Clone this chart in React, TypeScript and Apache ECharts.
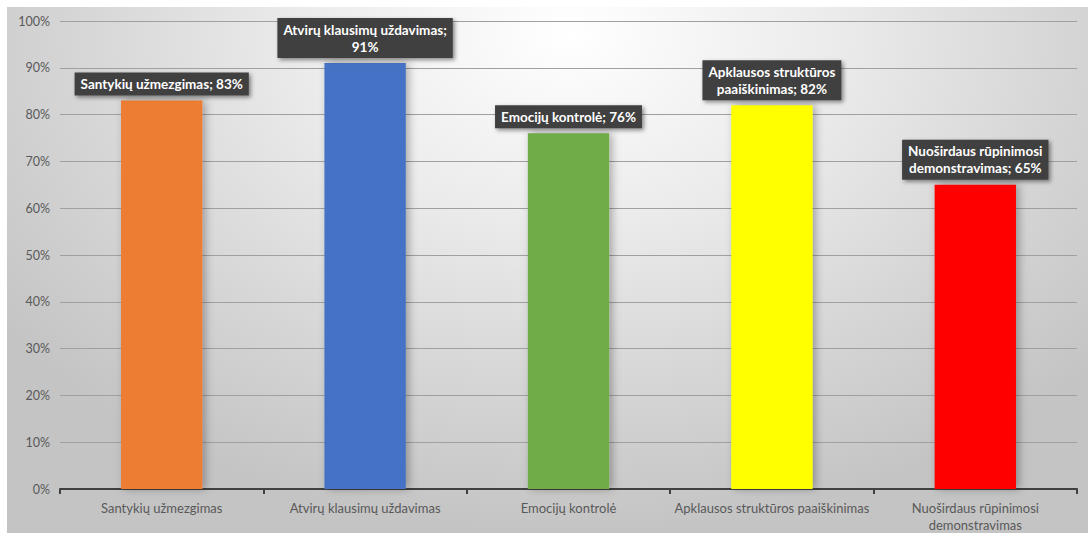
import React, { useEffect, useRef } from "react";
import * as echarts from "echarts";

const categories = [
  "Santykių užmezgimas",
  "Atvirų klausimų uždavimas",
  "Emocijų kontrolė",
  "Apklausos struktūros paaiškinimas",
  "Nuoširdaus rūpinimosi\ndemonstravimas",
];
const values = [83, 91, 76, 82, 65];
const dataLabels = [
  "Santykių užmezgimas; 83%",
  "Atvirų klausimų uždavimas;\n91%",
  "Emocijų kontrolė; 76%",
  "Apklausos struktūros\npaaiškinimas; 82%",
  "Nuoširdaus rūpinimosi\ndemonstravimas; 65%",
];
const barColors = ["#ED7D31", "#4472C4", "#70AD47", "#FFFF00", "#FF0000"];
const yTicks = { min: 0, max: 100, interval: 10 };

export default function App() {
  const ref = useRef<HTMLDivElement>(null);
  useEffect(() => {
    document.body.style.margin = "0";
    const chart = echarts.init(ref.current!, null, { renderer: "svg" });
    const font = "Lato, 'Open Sans', sans-serif";
    chart.setOption({
      animation: false,
      backgroundColor: "transparent",
      grid: { left: 53, right: 11, top: 14, bottom: 42, containLabel: false },
      xAxis: {
        type: "category",
        data: categories,
        axisLine: { show: true, lineStyle: { color: "#404040", width: 2 } },
        axisTick: { show: true, length: 5, lineStyle: { color: "#404040", width: 2 } },
        axisLabel: { color: "#595959", fontSize: 13, fontFamily: font, margin: 10, lineHeight: 17, interval: 0 },
      },
      yAxis: {
        type: "value",
        min: yTicks.min,
        max: yTicks.max,
        interval: yTicks.interval,
        axisLine: { show: false },
        axisTick: { show: false },
        axisLabel: { formatter: "{value}%", color: "#595959", fontSize: 12.5, fontFamily: font, margin: 10 },
        splitLine: { lineStyle: { color: "#a0a0a0", width: 1 } },
      },
      series: [
        {
          type: "bar",
          barWidth: "40%",
          data: values.map((v, i) => ({
            value: v,
            itemStyle: {
              color: barColors[i],
              shadowColor: "rgba(0,0,0,0.3)",
              shadowBlur: 8,
              shadowOffsetX: 3,
              shadowOffsetY: 0,
            },
          })),
          label: {
            show: true,
            position: "top",
            distance: 5,
            formatter: (p: any) => dataLabels[p.dataIndex],
            color: "#ffffff",
            fontWeight: "bold",
            fontSize: 13.5,
            fontFamily: font,
            lineHeight: 17,
            backgroundColor: "#404040",
            padding: [3, 6],
            shadowColor: "rgba(0,0,0,0.45)",
            shadowBlur: 4,
            shadowOffsetX: 2,
            shadowOffsetY: 2,
            align: "center",
          },
        },
      ],
    });
    return () => chart.dispose();
  }, []);
  return (
    <div
      ref={ref}
      style={{
        marginLeft: 7,
        marginTop: 7,
        width: 1081,
        height: 526,
        background:
          "radial-gradient(ellipse 65% 95% at 52% 5%, #ffffff 0%, #ebebeb 38%, #d6d6d6 70%, #c4c4c4 100%)",
      }}
    />
  );
}
